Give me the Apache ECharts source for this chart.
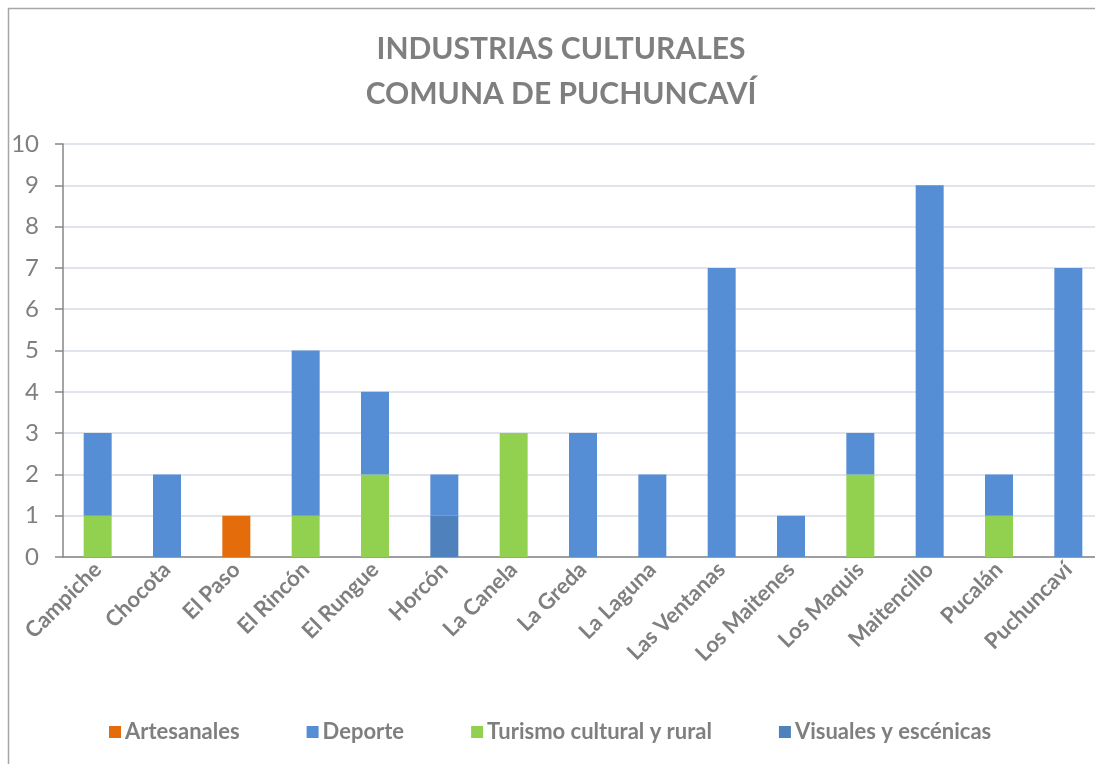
<!DOCTYPE html>
<html><head><meta charset="utf-8">
<script src="https://cdn.jsdelivr.net/npm/echarts@6/dist/echarts.min.js"></script>
<style>html,body{margin:0;padding:0;background:#fff}#c{width:1095px;height:764px}</style>
</head><body><div id="c"></div>
<script>
const categories = ['Campiche','Chocota','El Paso','El Rincón','El Rungue','Horcón','La Canela','La Greda','La Laguna','Las Ventanas','Los Maitenes','Los Maquis','Maitencillo','Pucalán','Puchuncaví'];
const artesanales = [0,0,1,0,0,0,0,0,0,0,0,0,0,0,0];
const turismo     = [1,0,0,1,2,0,3,0,0,0,0,2,0,1,0];
const visuales    = [0,0,0,0,0,1,0,0,0,0,0,0,0,0,0];
const deporte     = [2,2,0,4,2,1,0,3,2,7,1,1,9,1,7];
const yTicks = [0,1,2,3,4,5,6,7,8,9,10];

const FONT = 'Lato';
const GREY = '#7f7f7f';
const chart = echarts.init(document.getElementById('c'));
function ser(name, data, color){
  return {name, type:'bar', stack:'total', data: data.map(v => v===0 ? null : v), barWidth:28,
    itemStyle:{color}, emphasis:{disabled:true}};
}
chart.setOption({
  animation:false,
  title:{text:'INDUSTRIAS CULTURALES\nCOMUNA DE PUCHUNCAVÍ', left:556, top:22, textAlign:'center',
    textStyle:{fontFamily:FONT, fontSize:30, fontWeight:'bold', color:GREY, lineHeight:45}},
  legend:{bottom:16, left:104, itemWidth:12, itemHeight:12, itemGap:67, icon:'rect',
    data:['Artesanales','Deporte','Turismo cultural y rural','Visuales y escénicas'],
    textStyle:{fontFamily:FONT, fontSize:22, fontWeight:'bold', color:GREY, padding:[0,0,0,-1]}},
  grid:{left:63, top:144, height:413, width:1040, containLabel:false, outerBoundsMode:'none'},
  xAxis:{type:'category', data:categories,
    axisLine:{lineStyle:{color:'#868686', width:1.5}},
    axisTick:{length:8, lineStyle:{color:'#868686', width:1.5}},
    axisLabel:{rotate:45, margin:9, interval:0, fontFamily:FONT, fontSize:22, fontWeight:'bold', color:GREY}},
  yAxis:{type:'value', min:0, max:10, interval:1,
    axisLine:{show:true, lineStyle:{color:'#868686', width:1.5}},
    axisTick:{show:true, length:8, lineStyle:{color:'#868686', width:1.5}},
    splitLine:{lineStyle:{color:'#d6dbe6', width:1.5}},
    axisLabel:{margin:24, fontFamily:FONT, fontSize:24, color:GREY,
      formatter: v => yTicks.includes(v) ? String(v) : ''}},
  series:[
    ser('Artesanales', artesanales, '#e46c0a'),
    ser('Turismo cultural y rural', turismo, '#92d050'),
    ser('Visuales y escénicas', visuales, '#4f81bd'),
    ser('Deporte', deporte, '#558ed5')
  ],
  graphic:[{type:'rect', shape:{x:8.5, y:8.5, width:1200, height:900}, style:{fill:null, stroke:'#a6a6a6', lineWidth:1.5}, silent:true, z:-1}]
});
</script></body></html>
